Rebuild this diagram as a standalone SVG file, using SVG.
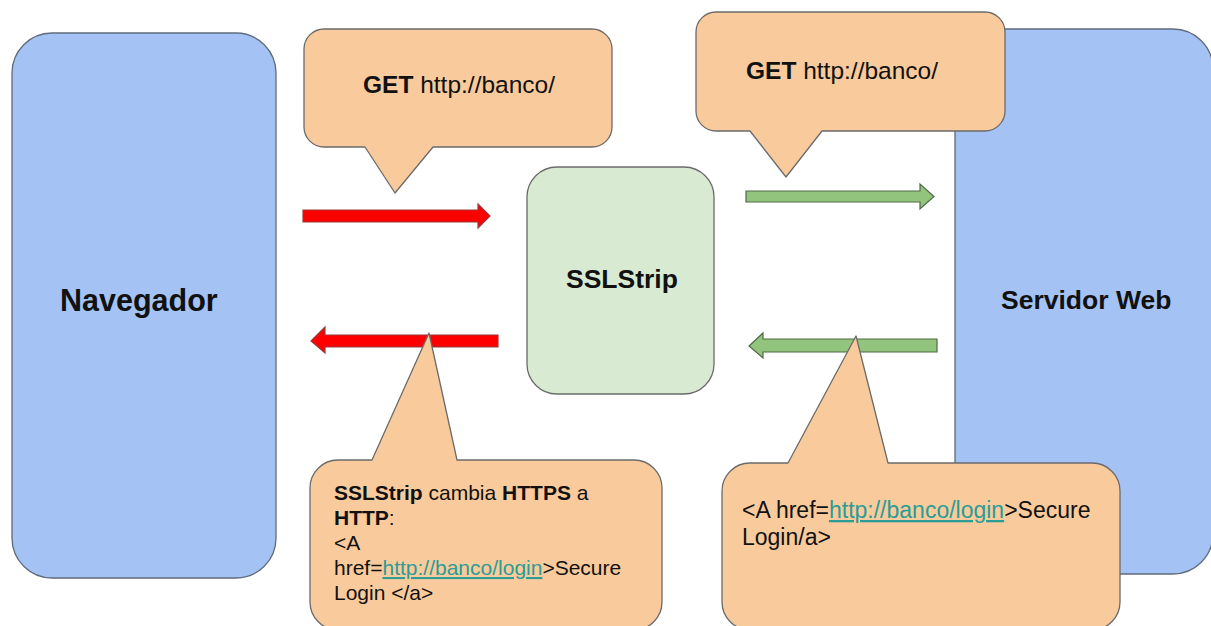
<svg xmlns="http://www.w3.org/2000/svg" width="1211" height="626" viewBox="0 0 1211 626">
  <style>
    text { font-family: "Liberation Sans", Arial, sans-serif; fill: #111; }
    .b { font-weight: bold; }
    .host { fill: #a4c2f4; stroke: #5f6b7a; stroke-width: 1.3; }
    .proxy { fill: #d9ead3; stroke: #6b6b6b; stroke-width: 1.3; }
    .note { fill: #f9cb9c; stroke: #6b6b6b; stroke-width: 1.3; stroke-linejoin: round; }
    .red { fill: #ff0000; stroke: #9a3a3a; stroke-width: 1.2; }
    .green { fill: #93c47d; stroke: #4f6b45; stroke-width: 1.2; }
    .link { fill: #2b9c96; text-decoration: underline; }
  </style>

  <rect width="1211" height="626" fill="#ffffff"/>

  <!-- browser -->
  <g id="navegador">
    <rect class="host" x="12" y="33" width="264" height="545" rx="40"/>
    <text class="b" x="60" y="311" font-size="30.5">Navegador</text>
  </g>

  <!-- web server, runs off the right edge -->
  <g id="servidor-web">
    <rect class="host" x="955" y="29" width="258" height="545" rx="40"/>
    <text class="b" x="1001" y="309" font-size="26.5">Servidor Web</text>
  </g>

  <!-- man in the middle -->
  <g id="sslstrip">
    <rect class="proxy" x="527" y="167" width="187" height="227" rx="30"/>
    <text class="b" x="566" y="288" font-size="26.5">SSLStrip</text>
  </g>

  <!-- block arrows -->
  <g id="connectors">
    <path class="red" d="M303,210 H478 V204 L490,216 L478,228 V222 H303 Z"/>
    <path class="green" d="M746,191 H920 V184 L934,196.5 L920,209 V202 H746 Z"/>
    <path class="red" d="M498,335 H325 V327 L311,341 L325,353 V347 H498 Z"/>
    <path class="green" d="M937,339 H763 V333 L749,346 L763,358 V352 H937 Z"/>
  </g>

  <!-- request browser -> proxy -->
  <g id="callout-get-1">
    <path class="note" d="M324,29 H592 A20,20 0 0 1 612,49 V127 A20,20 0 0 1 592,147 H433 L395,193 L365,147 H324 A20,20 0 0 1 304,127 V49 A20,20 0 0 1 324,29 Z"/>
    <text x="363" y="93" font-size="24.5"><tspan class="b">GET</tspan> http://banco/</text>
  </g>

  <!-- request proxy -> server -->
  <g id="callout-get-2">
    <path class="note" d="M716,12 H985 A20,20 0 0 1 1005,32 V111 A20,20 0 0 1 985,131 H822 L786,177 L750,131 H716 A20,20 0 0 1 696,111 V32 A20,20 0 0 1 716,12 Z"/>
    <text x="746" y="79" font-size="24.5"><tspan class="b">GET</tspan> http://banco/</text>
  </g>

  <!-- rewritten response proxy -> browser -->
  <g id="callout-rewrite">
    <path class="note" d="M338,460 H372 L429,333 L457,460 H634 A28,28 0 0 1 662,488 V602 A28,28 0 0 1 634,630 H338 A28,28 0 0 1 310,602 V488 A28,28 0 0 1 338,460 Z"/>
    <text font-size="21">
      <tspan x="334" y="500"><tspan class="b">SSLStrip</tspan> cambia <tspan class="b">HTTPS</tspan> a</tspan>
      <tspan x="334" y="525"><tspan class="b">HTTP</tspan>:</tspan>
      <tspan x="334" y="550">&lt;A</tspan>
      <tspan x="334" y="575">href=<tspan class="link">http://banco/login</tspan>&gt;Secure</tspan>
      <tspan x="334" y="600">Login &lt;/a&gt;</tspan>
    </text>
  </g>

  <!-- original response server -> proxy -->
  <g id="callout-response">
    <path class="note" d="M750,463 H788 L856,336 L888,463 H1092 A28,28 0 0 1 1120,491 V602 A28,28 0 0 1 1092,630 H750 A28,28 0 0 1 722,602 V491 A28,28 0 0 1 750,463 Z"/>
    <text font-size="23">
      <tspan x="742" y="518">&lt;A href=<tspan class="link">http://banco/login</tspan>&gt;Secure</tspan>
      <tspan x="742" y="545">Login/a&gt;</tspan>
    </text>
  </g>
</svg>
